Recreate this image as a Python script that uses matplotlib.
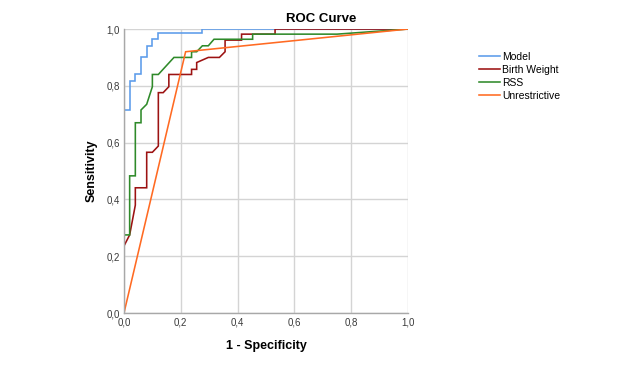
import matplotlib
matplotlib.use("Agg")
import matplotlib.pyplot as plt
from matplotlib.ticker import FuncFormatter

plt.rcParams['font.family'] = ['Liberation Sans', 'DejaVu Sans']

# Data
model_fpr = [0.0, 0.0, 0.02, 0.02, 0.04, 0.04, 0.06, 0.06, 0.08, 0.08, 0.10, 0.10, 0.12, 0.12, 0.276, 0.276, 1.0]
model_tpr = [0.0, 0.715, 0.715, 0.817, 0.817, 0.84, 0.84, 0.90, 0.90, 0.941, 0.941, 0.964, 0.964, 0.985, 0.985, 1.0, 1.0]

bw_fpr = [0.0, 0.0, 0.02, 0.04, 0.04, 0.08, 0.08, 0.10, 0.121, 0.121, 0.138, 0.158, 0.158, 0.238, 0.238, 0.256, 0.256, 0.297, 0.336, 0.356, 0.356, 0.414, 0.414, 0.532, 0.532, 1.0]
bw_tpr = [0.0, 0.236, 0.275, 0.38, 0.441, 0.441, 0.566, 0.566, 0.588, 0.776, 0.776, 0.797, 0.84, 0.84, 0.858, 0.858, 0.882, 0.90, 0.90, 0.92, 0.961, 0.961, 0.982, 0.982, 1.0, 1.0]

rss_fpr = [0.0, 0.0, 0.02, 0.02, 0.04, 0.04, 0.06, 0.06, 0.08, 0.10, 0.10, 0.121, 0.176, 0.238, 0.238, 0.256, 0.276, 0.297, 0.317, 0.453, 0.453, 0.75, 1.0]
rss_tpr = [0.0, 0.275, 0.275, 0.483, 0.483, 0.67, 0.67, 0.715, 0.735, 0.797, 0.84, 0.84, 0.90, 0.90, 0.92, 0.92, 0.941, 0.941, 0.964, 0.964, 0.982, 0.982, 1.0]

unr_fpr = [0.0, 0.217, 1.0]
unr_tpr = [0.0, 0.92, 1.0]

series = [
    ("Model", model_fpr, model_tpr, "#5b9bea"),
    ("Birth Weight", bw_fpr, bw_tpr, "#9c1212"),
    ("RSS", rss_fpr, rss_tpr, "#2f8a2a"),
    ("Unrestrictive", unr_fpr, unr_tpr, "#ff6a22"),
]

ticks = [0.0, 0.2, 0.4, 0.6, 0.8, 1.0]

fig = plt.figure(figsize=(6.42, 3.79), dpi=100)
ax = fig.add_axes([0.1931, 0.1741, 0.4424, 0.7493])

for name, x, y, c in series:
    ax.plot(x, y, color=c, lw=1.15, label=name, solid_joinstyle='miter')

ax.set_xlim(0, 1)
ax.set_ylim(0, 1)
ax.set_xticks(ticks)
ax.set_yticks(ticks)
fmt = FuncFormatter(lambda v, p: f"{v:.1f}".replace(".", ","))
ax.xaxis.set_major_formatter(fmt)
ax.yaxis.set_major_formatter(fmt)
ax.tick_params(length=0, labelsize=7, colors="#3a3a3a", pad=3)
ax.grid(True, color="#d4d4d4", lw=1.0)
ax.set_axisbelow(True)
for s in ["top", "right"]:
    ax.spines[s].set_visible(False)
for s in ["left", "bottom"]:
    ax.spines[s].set_color("#a8a8a8")
    ax.spines[s].set_linewidth(1.0)

ax.set_xlabel("1 - Specificity", fontsize=9, fontweight="bold", labelpad=9)
ax.set_ylabel("Sensitivity", fontsize=9, fontweight="bold", labelpad=6)
fig.text(321 / 642, 1 - 18.5 / 379, "ROC Curve", fontsize=9.5, fontweight="bold",
         ha="center", va="center")

handles, labels = ax.get_legend_handles_labels()
fig.legend(handles, labels, loc="upper left", bbox_to_anchor=(479 / 642, 1 - 52 / 379),
           frameon=False, fontsize=7.5, handlelength=2.0, handletextpad=0.25,
           labelspacing=0.28, borderaxespad=0, borderpad=0)

fig.savefig("out.png", dpi=100)
